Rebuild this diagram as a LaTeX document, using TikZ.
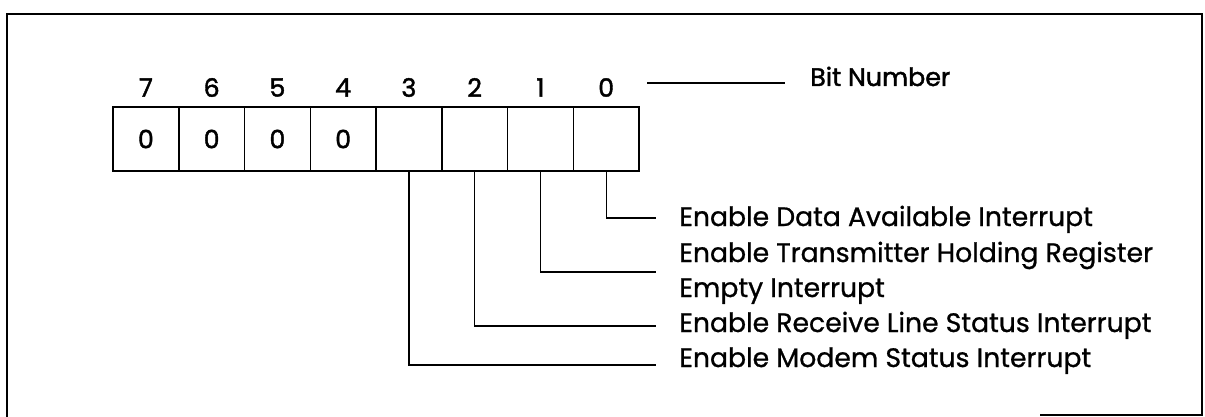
\documentclass[tikz,border=0pt]{standalone}
\usepackage{fontspec}
\setmainfont{Poppins}
\newfontfamily\heavyfont[FakeBold=1.6]{Poppins}
\newfontfamily\lblfont[FakeBold=0.9]{Poppins}
\begin{document}
\begin{tikzpicture}[x=0.75pt,y=-0.75pt,
  frame/.style={line width=1.2pt},
  cell/.style={draw,line width=1.1pt,minimum width=49.3pt,minimum height=48pt,inner sep=0pt,font=\heavyfont\fontsize{19}{19}\selectfont},
  bitnum/.style={font=\heavyfont\fontsize{19}{19}\selectfont,inner sep=0pt},
  lbl/.style={anchor=base west,inner sep=0pt,font=\lblfont\fontsize{20}{20}\selectfont},
  conn/.style={line width=0.9pt}]
\useasboundingbox (0,0) rectangle (1205,417);
% frame
\draw[frame] (1040,415) -- (1202,415) -- (1202,14) -- (7,14) -- (7,417);
% cells
\foreach \b/\v [count=\k from 0] in {7/0,6/0,5/0,4/0,3/{},2/{},1/{},0/{}}{
  \node[cell] (c\b) at ({145.9+\k*65.75},139) {\v};
  \node[bitnum] (n\b) at ({145.9+\k*65.75},87.5) {\b};
}
% bit number
\node[anchor=base west,inner sep=0pt,font=\heavyfont\fontsize{19}{19}\selectfont] (bn) at (810,86) {Bit Number};
\coordinate (bl0) at (647,83);
\coordinate (bl1) at (785,83);
\draw[conn] (bl0) -- (bl1);
% labels
\node[lbl] (t0) at (679,226) {Enable Data Available Interrupt};
\node[lbl] (t1) at (679,262) {Enable Transmitter Holding Register};
\node[lbl] (t1b) at (679,297) {Empty Interrupt};
\node[lbl] (t2) at (679,332) {Enable Receive Line Status Interrupt};
\node[lbl] (t3) at (679,367) {Enable Modem Status Interrupt};
% connectors
\coordinate (e0) at (656,218);
\coordinate (e1) at (656,272);
\coordinate (e2) at (656,326);
\coordinate (e3) at (656,365);
\draw[conn] (c0.south) |- (e0);
\draw[conn] (c1.south) |- (e1);
\draw[conn] (c2.south) |- (e2);
\draw[conn] (c3.south) |- (e3);
\end{tikzpicture}
\end{document}
